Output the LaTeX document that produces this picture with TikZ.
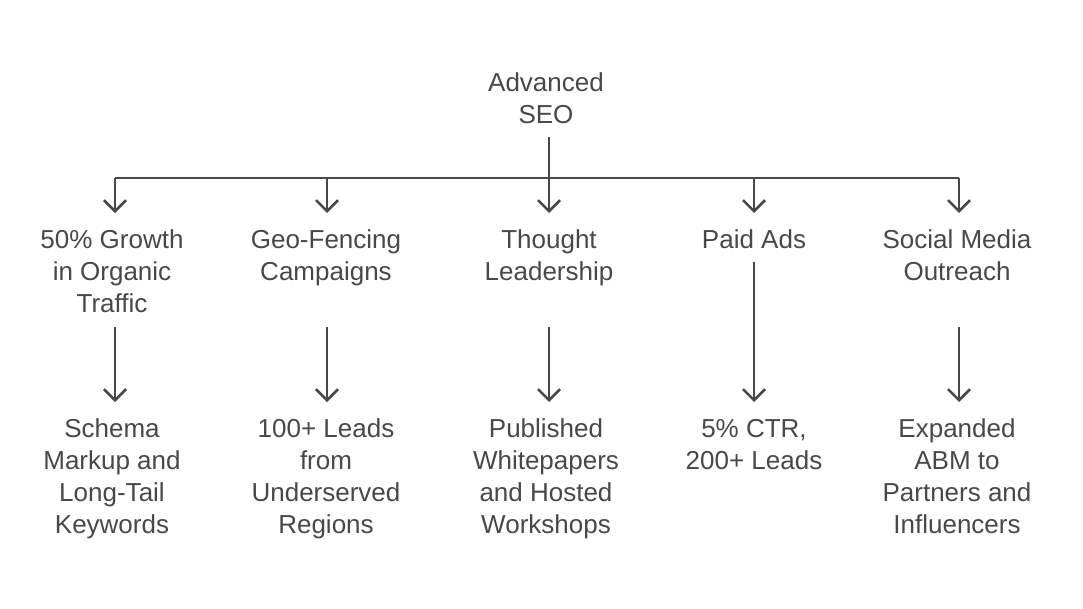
\documentclass[tikz,border=0pt]{standalone}
\usepackage{fontspec}
\setmainfont{Liberation Sans}
\usetikzlibrary{arrows.meta}
\definecolor{ink}{HTML}{484848}
\tikzset{
  lbl/.style={align=center, anchor=base, text=ink, inner sep=0pt, font=\fontsize{26}{32}\selectfont},
  conn/.style={draw=ink, line width=2.6pt},
  arr/.style={conn, -{Straight Barb[length=11pt,width=22pt,line width=2.6pt]}}
}
\begin{document}
\begin{tikzpicture}[x=1pt,y=-1pt]
\useasboundingbox (0,0) rectangle (1083,608);
% nodes (placed by the baseline of their last line)
\node[lbl] (root) at (546,123) {Advanced\\SEO};
\node[lbl] (a1) at (112,312) {50\% Growth\\in Organic\\Traffic};
\node[lbl] (a2) at (326,280) {Geo-Fencing\\Campaigns};
\node[lbl] (a3) at (549,280) {Thought\\Leadership};
\node[lbl] (a4) at (754,248) {Paid Ads};
\node[lbl] (a5) at (957,280) {Social Media\\Outreach};
\node[lbl] (b1) at (112,533) {Schema\\Markup and\\Long-Tail\\Keywords};
\node[lbl] (b2) at (326,533) {100+ Leads\\from\\Underserved\\Regions};
\node[lbl] (b3) at (546,533) {Published\\Whitepapers\\and Hosted\\Workshops};
\node[lbl] (b4) at (754,469) {5\% CTR,\\200+ Leads};
\node[lbl] (b5) at (957,533) {Expanded\\ABM to\\Partners and\\Influencers};
% connector points
\coordinate (rs) at (549,137);
\coordinate (bus) at (549,178);
\coordinate (t1) at (115,213);
\coordinate (t2) at (327,213);
\coordinate (t3) at (549,213);
\coordinate (t4) at (754,213);
\coordinate (t5) at (959,213);
\coordinate (s1) at (115,327);
\coordinate (s2) at (327,327);
\coordinate (s3) at (549,327);
\coordinate (s4) at (754,262);
\coordinate (s5) at (959,327);
\coordinate (e1) at (115,402);
\coordinate (e2) at (327,402);
\coordinate (e3) at (549,402);
\coordinate (e4) at (754,402);
\coordinate (e5) at (959,402);
% connectors
\draw[conn] (rs) -- (bus);
\draw[conn] (t1 |- bus) -- (t5 |- bus);
\foreach \i in {1,...,5} {
  \draw[arr] (t\i |- bus) -- (t\i);
  \draw[arr] (s\i) -- (e\i);
}
\end{tikzpicture}
\end{document}
